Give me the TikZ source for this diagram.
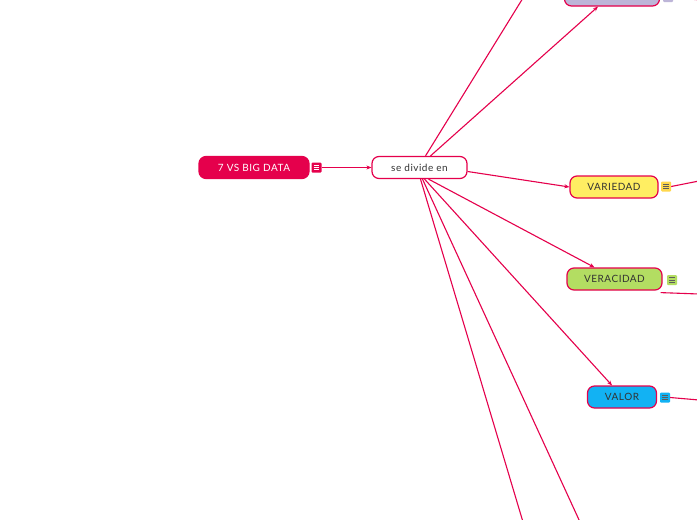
\documentclass[tikz,border=0pt]{standalone}
\usepackage{fontspec}
\setmainfont{Lato}[LetterSpace=5]
\usetikzlibrary{arrows.meta}
\definecolor{crim}{HTML}{E5004C}
\definecolor{lav}{HTML}{BDB5D8}
\definecolor{yel}{HTML}{FFEE62}
\definecolor{grn}{HTML}{B3DD62}
\definecolor{blu}{HTML}{12B2F3}
\definecolor{txt}{HTML}{333333}
\tikzset{
  topic/.style={rounded corners=7pt, draw=crim, line width=1.2pt, minimum height=22pt, inner xsep=4pt, font=\fontsize{10}{12}\selectfont, text=txt},
  conn/.style={draw=crim, line width=1.1pt},
  arr/.style={conn, -{Stealth[length=5pt,width=4pt]}},
  icon/.style={minimum size=10pt, inner sep=0pt, rounded corners=1pt, fill=#1,
    path picture={
      \foreach \yy in {-2.2,0,2.2}{
        \draw[line width=0.8pt, draw=txt!80] ([xshift=-2.8pt,yshift=\yy pt]path picture bounding box.center) -- ([xshift=2.8pt,yshift=\yy pt]path picture bounding box.center);}
    }},
  iconw/.style={icon=crim, path picture={
      \foreach \yy in {-2.2,0,2.2}{
        \draw[line width=0.8pt, draw=white] ([xshift=-2.8pt,yshift=\yy pt]path picture bounding box.center) -- ([xshift=2.8pt,yshift=\yy pt]path picture bounding box.center);}
    }}
}
\begin{document}
\begin{tikzpicture}[x=1pt,y=-1pt]
\useasboundingbox[fill=white] (0,0) rectangle (697,520);
% nodes
\node[topic, fill=crim, draw=crim, text=white, minimum width=110pt] (main) at (254,167.5) {7 VS BIG DATA};
\node[iconw] (mainicon) at (316.5,167.5) {};
\node[topic, fill=white, minimum width=95pt] (div) at (419.5,167.5) {se divide en};
\node[topic, fill=lav, minimum width=95pt] (purple) at (612,-5) {};
\node[icon=lav] (purpleicon) at (668,-3) {};
\node[topic, fill=yel, minimum width=88pt] (var) at (614,187) {VARIEDAD};
\node[icon=yel!80!orange] (varicon) at (666,186.5) {};
\node[topic, fill=grn, minimum width=95pt] (ver) at (614.5,279) {VERACIDAD};
\node[icon=grn] (vericon) at (672,280) {};
\node[topic, fill=blu, minimum width=69pt] (val) at (622,397) {VALOR};
\node[icon=blu] (valicon) at (665,397.5) {};
% off-canvas ends
\coordinate (c1) at (523,-2);
\coordinate (c2) at (523,522);
\coordinate (c3) at (580,522);
\coordinate (r0) at (699,0);
\coordinate (r1) at (699,181);
\coordinate (r2) at (699,294);
\coordinate (r3) at (699,400);
% connectors
\draw[arr] (mainicon.east) -- (div.west);
\draw[conn] ([xshift=6pt]div.north) -- (c1);
\draw[arr] ([xshift=11pt]div.north) -- ([xshift=-14pt]purple.south);
\draw[arr] ([yshift=-4pt]div.east) -- (var.west);
\draw[arr] ([xshift=9pt]div.south) -- ([xshift=-20pt]ver.north);
\draw[arr] ([xshift=5pt]div.south) -- ([xshift=-10pt]val.north);
\draw[conn] ([xshift=1pt]div.south) -- (c2);
\draw[conn] ([xshift=3pt]div.south) -- (c3);
\draw[conn, draw=crim!60] (purpleicon.east) -- (r0);
\draw[conn] (varicon.east) -- (r1);
\draw[conn] ([xshift=-2pt,yshift=-2pt]ver.south east) -- (r2);
\draw[conn] (valicon.east) -- (r3);
\end{tikzpicture}
\end{document}
